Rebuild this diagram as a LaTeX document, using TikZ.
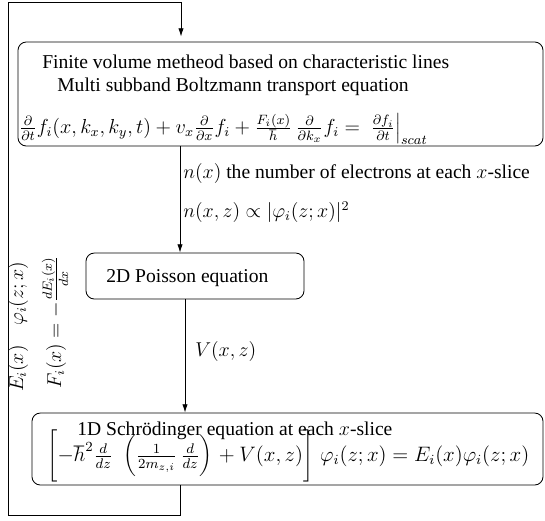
\documentclass[tikz,border=0pt]{standalone}
\usepackage{fontspec}
\setmainfont{Liberation Serif}
\usetikzlibrary{arrows.meta}
\begin{document}
\begin{tikzpicture}[x=0.6pt,y=-0.6pt,
  box/.style={draw,rounded corners=5pt,inner sep=0pt,line width=0.5pt},
  txt/.style={anchor=west,inner sep=0pt,font=\fontsize{11.75}{14}\selectfont},
  rtxt/.style={inner sep=0pt,rotate=90,font=\fontsize{11.75}{14}\selectfont},
  arr/.style={-{Latex[length=5pt,width=3.2pt]},line width=0.5pt},
  ln/.style={line width=0.5pt}]
\useasboundingbox (0,0) rectangle (545,520);
% boxes
\node[box,minimum width=315pt,minimum height=62.4pt] (b1) at (280.5,94) {};
\node[box,minimum width=130.8pt,minimum height=27.6pt] (b2) at (195,276) {};
\node[box,minimum width=306.6pt,minimum height=43.2pt] (b3) at (287.5,449) {};
% texts in box 1
\node[txt] (t1) at (42,62) {Finite volume metheod based on characteristic lines};
\node[txt] (t2) at (57,87) {Multi subband Boltzmann transport equation};
\node[txt,scale=1.014,transform shape] (e1) at (19,129) {$\frac{\partial}{\partial t} f_i(x,k_x,k_y,t) + v_x \frac{\partial}{\partial x} f_i + \frac{F_i(x)}{\hbar}\,\frac{\partial}{\partial k_x} f_i = \ \frac{\partial f_i}{\partial t}\Big|_{scat}$};
% box 2
\node[txt] (t3) at (106,278) {2D Poisson equation};
% box 3
\node[txt] (t4) at (77,431) {1D Schr\"odinger equation at each $x$-slice};
\node[txt,scale=1.045,transform shape] (e3) at (47,456) {$\Biggl[-\hbar^2 \frac{d}{dz}\hspace{6pt}\biggl(\frac{1}{2m_{z,i}}\hspace{2pt}\frac{d}{dz}\biggr)\hspace{1pt} + V(x,z)\Biggr]\hspace{4pt}\varphi_i(z;x) = E_i(x)\varphi_i(z;x)$};
% labels
\node[txt] (l1) at (183,173) {$n(x)$ the number of electrons at each $x$-slice};
\node[txt] (l2) at (183,212) {$n(x,z)\propto|\varphi_i(z;x)|^2$};
\node[txt] (l3) at (195,351) {$V(x,z)$};
\node[rtxt] (l4) at (18,327) {$E_i(x)\quad\varphi_i(z;x)$};
\node[rtxt] (l5) at (55,322) {$F_i(x) = -\frac{dE_i(x)}{dx}$};
% connector coordinates
\coordinate (c1) at (180,0);
\coordinate (c2) at (185,0);
\coordinate (c3) at (181,0);
\coordinate (bl) at (8,515);
\coordinate (tl) at (8,2);
% connectors
\draw[arr] (b1.south -| c1) -- (b2.north -| c1);
\draw[arr] (b2.south -| c2) -- (b3.north -| c2);
\draw[arr,shorten >=3pt] (b3.south -| c1) |- (bl) |- (tl) -| (b1.north -| c3);
\end{tikzpicture}
\end{document}
